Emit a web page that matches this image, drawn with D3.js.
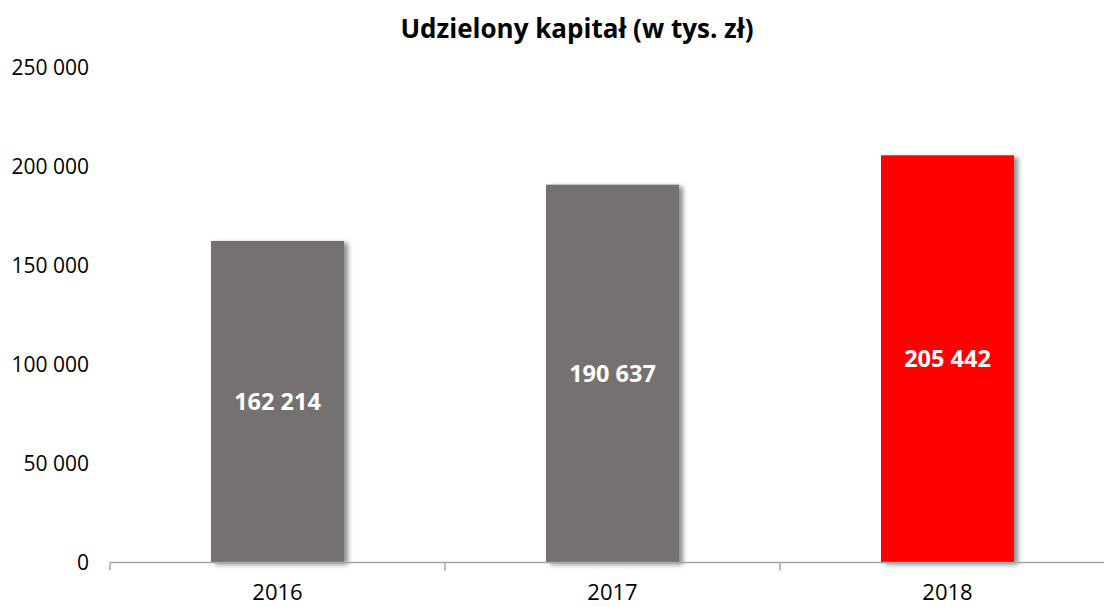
<!DOCTYPE html>
<html>
<head>
<meta charset="utf-8">
<script src="https://cdn.jsdelivr.net/npm/d3@7"></script>
<style>
  body { margin: 0; background: #fff; }
  svg text { font-family: "Open Sans", sans-serif; }
</style>
</head>
<body>
<script>
const years = ['2016', '2017', '2018'];
const values = [162214, 190637, 205442];
const barColors = ['#767171', '#767171', '#ff0000'];
const yTicks = [0, 50000, 100000, 150000, 200000, 250000];

const [w, h] = [1104, 607];
const [x0, x1, yBase, yTop] = [110, 1115, 562.5, 67];

const fmt = v => d3.format(',')(v).replace(/,/g, ' ');

const svg = d3.select('body').append('svg')
  .attr('width', w)
  .attr('height', h);

const defs = svg.append('defs');
const shadow = defs.append('filter').attr('id', 'shadow')
  .attr('x', '-10%').attr('y', '-10%').attr('width', '130%').attr('height', '120%');
shadow.append('feDropShadow')
  .attr('dx', 4).attr('dy', 2).attr('stdDeviation', 2.5)
  .attr('flood-color', '#000').attr('flood-opacity', 0.45);

const x = d3.scaleBand()
  .domain(years)
  .range([x0, x1])
  .paddingInner(0.603)
  .paddingOuter(0.3015);

const y = d3.scaleLinear()
  .domain([0, 250000])
  .range([yBase, yTop]);

// title
svg.append('text')
  .attr('x', 577)
  .attr('y', 38)
  .attr('text-anchor', 'middle')
  .attr('font-size', 26)
  .attr('font-weight', 'bold')
  .attr('fill', '#000')
  .text('Udzielony kapitał (w tys. zł)');

// y labels (no axis line)
svg.append('g').selectAll('text')
  .data(yTicks)
  .enter()
  .append('text')
  .attr('x', 89)
  .attr('y', d => y(d))
  .attr('dy', '0.36em')
  .attr('text-anchor', 'end')
  .attr('font-size', 21)
  .attr('fill', '#000')
  .text(d => fmt(d));

// bars
svg.append('g').selectAll('rect')
  .data(values)
  .enter()
  .append('rect')
  .attr('x', (d, i) => x(years[i]))
  .attr('y', d => y(d))
  .attr('width', x.bandwidth())
  .attr('height', d => yBase - y(d))
  .attr('fill', (d, i) => barColors[i])
  .attr('filter', 'url(#shadow)');

// value labels
svg.append('g').selectAll('text')
  .data(values)
  .enter()
  .append('text')
  .attr('x', (d, i) => x(years[i]) + x.bandwidth() / 2)
  .attr('y', d => (y(d) + yBase) / 2)
  .attr('dy', '0.36em')
  .attr('text-anchor', 'middle')
  .attr('font-size', 23.5)
  .attr('font-weight', 'bold')
  .attr('fill', '#fff')
  .text(d => fmt(d));

// x axis
const xAxis = svg.append('g');
xAxis.append('line')
  .attr('x1', x0).attr('x2', w)
  .attr('y1', yBase).attr('y2', yBase)
  .attr('stroke', '#a6a6a6')
  .attr('stroke-width', 1.5);

const boundaries = [x0].concat(years.map(yr => x(yr) + x.bandwidth() / 2 + x.step() / 2));
xAxis.selectAll('.tick')
  .data(boundaries)
  .enter()
  .append('line')
  .attr('class', 'tick')
  .attr('x1', d => d).attr('x2', d => d)
  .attr('y1', yBase).attr('y2', yBase + 8)
  .attr('stroke', '#a6a6a6')
  .attr('stroke-width', 1.5);

xAxis.selectAll('.lbl')
  .data(years)
  .enter()
  .append('text')
  .attr('class', 'lbl')
  .attr('x', d => x(d) + x.bandwidth() / 2)
  .attr('y', 600)
  .attr('text-anchor', 'middle')
  .attr('font-size', 22)
  .attr('fill', '#000')
  .text(d => d);
</script>
</body>
</html>
